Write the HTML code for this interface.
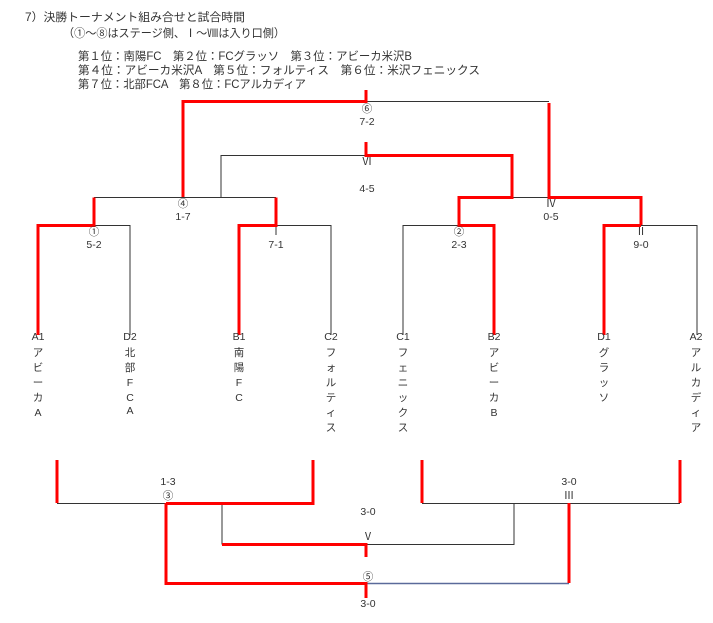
<!DOCTYPE html>
<html><head><meta charset="utf-8"><style>
html,body{margin:0;padding:0;background:#fff;width:713px;height:623px;overflow:hidden}
svg{display:block}
text{font-family:"Liberation Sans","Noto Sans CJK JP",sans-serif;fill:#333}
</style></head><body>
<svg width="713" height="623" viewBox="0 0 713 623" xmlns="http://www.w3.org/2000/svg">
<g font-size="11.5">
<text x="25" y="21" textLength="220" lengthAdjust="spacingAndGlyphs">7）決勝トーナメント組み合せと試合時間</text>
<text x="63" y="37" textLength="222" lengthAdjust="spacingAndGlyphs">（①～⑧はステージ側、Ⅰ～Ⅷは入り口側）</text>
<text x="78" y="60" textLength="334" lengthAdjust="spacingAndGlyphs">第１位：南陽FC　第２位：FCグラッソ　第３位：アビーカ米沢B</text>
<text x="78" y="74" textLength="402" lengthAdjust="spacingAndGlyphs">第４位：アビーカ米沢A　第５位：フォルティス　第６位：米沢フェニックス</text>
<text x="78" y="88" textLength="228" lengthAdjust="spacingAndGlyphs">第７位：北部FCA　第８位：FCアルカディア</text>
</g>
<g stroke="#333" stroke-width="1" fill="none">
<path d="M366 101.5H549"/>
<path d="M221 197V155.5H366"/>
<path d="M94 197.5H276"/>
<path d="M94 225.5H130V335"/>
<path d="M276 225.5H331V335"/>
<path d="M512 197.5H549"/>
<path d="M403 335V225.5H459"/>
<path d="M641 225.5H697V335"/>
<path d="M57 503.5H166"/>
<path d="M222 503V544.5"/>
<path d="M366 544.5H514V503"/>
<path d="M422 503.5H680"/>
</g>
<path d="M366 583.5H569" stroke="#5a6a9a" stroke-width="1.5" fill="none"/>
<g stroke="#f00" stroke-width="3" fill="none">
<path d="M366 90V101.5H183V197"/>
<path d="M549 103V197.5H641V225"/>
<path d="M366 142V155.5H512V197.5H459V225.5H494V335"/>
<path d="M94 197.5V225.5H38V335"/>
<path d="M276 197.5V225.5H239V335"/>
<path d="M641 225.5H604V335"/>
<path d="M57 460V503"/>
<path d="M166 503.5H313V460"/>
<path d="M422 460V503"/>
<path d="M680 460V503"/>
<path d="M222 544.5H366V557"/>
<path d="M166 503V583.5H366V598"/>
<path d="M569 503V583"/>
</g>
<g font-size="10.5" text-anchor="middle">
<text x="367" y="112">⑥</text><text x="367" y="125">7-2</text>
<text x="367" y="165">Ⅵ</text><text x="367" y="192">4-5</text>
<text x="183" y="207">④</text><text x="183" y="220">1-7</text>
<text x="551" y="207">Ⅳ</text><text x="551" y="220">0-5</text>
<text x="94" y="235">①</text><text x="94" y="248">5-2</text>
<text x="276" y="235">Ⅰ</text><text x="276" y="248">7-1</text>
<text x="459" y="235">②</text><text x="459" y="248">2-3</text>
<text x="641" y="235">Ⅱ</text><text x="641" y="248">9-0</text>
<text x="168" y="485">1-3</text><text x="168" y="499">③</text>
<text x="569" y="485">3-0</text><text x="569" y="499">Ⅲ</text>
<text x="368" y="515">3-0</text>
<text x="368" y="540">Ⅴ</text>
<text x="368" y="580">⑤</text>
<text x="368" y="607">3-0</text>
</g>
<g font-size="10.5" text-anchor="middle">
<text x="38" y="340">A1</text><text x="38" y="356">ア</text><text x="38" y="371">ビ</text><text x="38" y="386">ー</text><text x="38" y="401">カ</text><text x="38" y="416">A</text>
<text x="130" y="340">D2</text><text x="130" y="356">北</text><text x="130" y="371">部</text><text x="130" y="386">F</text><text x="130" y="401">C</text><text x="130" y="414">A</text>
<text x="239" y="340">B1</text><text x="239" y="356">南</text><text x="239" y="371">陽</text><text x="239" y="386">F</text><text x="239" y="401">C</text>
<text x="331" y="340">C2</text><text x="331" y="356">フ</text><text x="331" y="371">ォ</text><text x="331" y="386">ル</text><text x="331" y="401">テ</text><text x="331" y="416">ィ</text><text x="331" y="431">ス</text>
<text x="403" y="340">C1</text><text x="403" y="356">フ</text><text x="403" y="371">ェ</text><text x="403" y="386">ニ</text><text x="403" y="401">ッ</text><text x="403" y="416">ク</text><text x="403" y="431">ス</text>
<text x="494" y="340">B2</text><text x="494" y="356">ア</text><text x="494" y="371">ビ</text><text x="494" y="386">ー</text><text x="494" y="401">カ</text><text x="494" y="416">B</text>
<text x="604" y="340">D1</text><text x="604" y="356">グ</text><text x="604" y="371">ラ</text><text x="604" y="386">ッ</text><text x="604" y="401">ソ</text>
<text x="696" y="340">A2</text><text x="696" y="356">ア</text><text x="696" y="371">ル</text><text x="696" y="386">カ</text><text x="696" y="401">デ</text><text x="696" y="416">ィ</text><text x="696" y="431">ア</text>
</g>
</svg>
</body></html>
